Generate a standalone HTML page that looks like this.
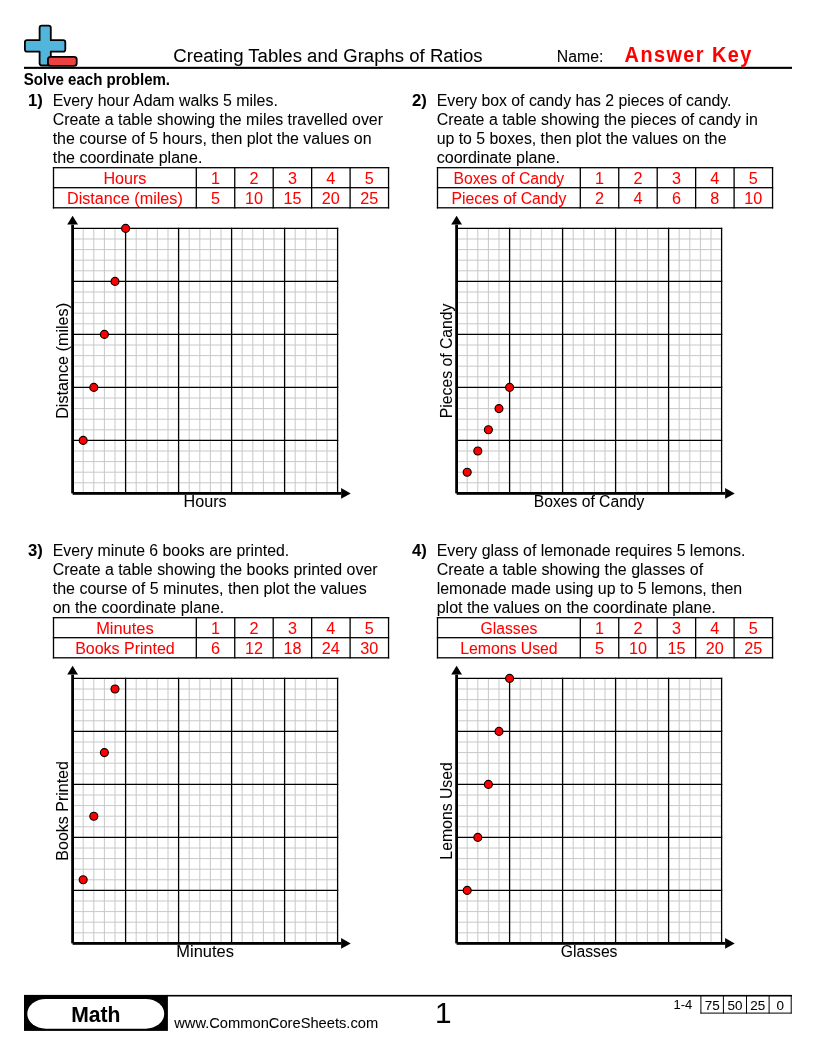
<!DOCTYPE html>
<html><head><meta charset="utf-8"><title>Creating Tables and Graphs of Ratios</title>
<style>
html,body{margin:0;padding:0;background:#fff;}
svg{display:block;}
text{font-family:'Liberation Sans', sans-serif;stroke-width:0.05px;}
</style></head><body>
<svg width="816" height="1056" viewBox="0 0 816 1056">
<rect width="816" height="1056" fill="#fff"/>
<g stroke="#000" stroke-width="1.8" stroke-linejoin="round">
<path d="M41.8,25.7 H48.6 A2.2,2.2 0 0 1 50.8,27.9 V40.2 H63.1 A2.2,2.2 0 0 1 65.3,42.4 V49.4 A2.2,2.2 0 0 1 63.1,51.6 H50.8 V63.3 A2.2,2.2 0 0 1 48.6,65.5 H41.8 A2.2,2.2 0 0 1 39.6,63.3 V51.6 H27.1 A2.2,2.2 0 0 1 24.9,49.4 V42.4 A2.2,2.2 0 0 1 27.1,40.2 H39.6 V27.9 A2.2,2.2 0 0 1 41.8,25.7 Z" fill="#52b5db"/>
<rect x="47.9" y="56.9" width="28.8" height="8.9" rx="2.6" fill="#ee4242"/>
</g>
<rect x="24" y="66.8" width="768" height="2.1" fill="#000"/>
<rect x="52.85" y="167.05" width="336.35" height="1.3" fill="#000"/>
<rect x="52.85" y="187.05" width="336.35" height="1.3" fill="#000"/>
<rect x="52.85" y="207.15" width="336.35" height="1.3" fill="#000"/>
<rect x="52.85" y="167.05" width="1.3" height="41.40" fill="#000"/>
<rect x="195.65" y="167.05" width="1.3" height="41.40" fill="#000"/>
<rect x="234.10" y="167.05" width="1.3" height="41.40" fill="#000"/>
<rect x="272.55" y="167.05" width="1.3" height="41.40" fill="#000"/>
<rect x="311.00" y="167.05" width="1.3" height="41.40" fill="#000"/>
<rect x="349.45" y="167.05" width="1.3" height="41.40" fill="#000"/>
<rect x="387.90" y="167.05" width="1.3" height="41.40" fill="#000"/>
<g stroke="#c8c8c8" stroke-width="1"><line x1="83.20" y1="228.40" x2="83.20" y2="493.40"/><line x1="72.60" y1="482.80" x2="337.60" y2="482.80"/><line x1="93.80" y1="228.40" x2="93.80" y2="493.40"/><line x1="72.60" y1="472.20" x2="337.60" y2="472.20"/><line x1="104.40" y1="228.40" x2="104.40" y2="493.40"/><line x1="72.60" y1="461.60" x2="337.60" y2="461.60"/><line x1="115.00" y1="228.40" x2="115.00" y2="493.40"/><line x1="72.60" y1="451.00" x2="337.60" y2="451.00"/><line x1="136.20" y1="228.40" x2="136.20" y2="493.40"/><line x1="72.60" y1="429.80" x2="337.60" y2="429.80"/><line x1="146.80" y1="228.40" x2="146.80" y2="493.40"/><line x1="72.60" y1="419.20" x2="337.60" y2="419.20"/><line x1="157.40" y1="228.40" x2="157.40" y2="493.40"/><line x1="72.60" y1="408.60" x2="337.60" y2="408.60"/><line x1="168.00" y1="228.40" x2="168.00" y2="493.40"/><line x1="72.60" y1="398.00" x2="337.60" y2="398.00"/><line x1="189.20" y1="228.40" x2="189.20" y2="493.40"/><line x1="72.60" y1="376.80" x2="337.60" y2="376.80"/><line x1="199.80" y1="228.40" x2="199.80" y2="493.40"/><line x1="72.60" y1="366.20" x2="337.60" y2="366.20"/><line x1="210.40" y1="228.40" x2="210.40" y2="493.40"/><line x1="72.60" y1="355.60" x2="337.60" y2="355.60"/><line x1="221.00" y1="228.40" x2="221.00" y2="493.40"/><line x1="72.60" y1="345.00" x2="337.60" y2="345.00"/><line x1="242.20" y1="228.40" x2="242.20" y2="493.40"/><line x1="72.60" y1="323.80" x2="337.60" y2="323.80"/><line x1="252.80" y1="228.40" x2="252.80" y2="493.40"/><line x1="72.60" y1="313.20" x2="337.60" y2="313.20"/><line x1="263.40" y1="228.40" x2="263.40" y2="493.40"/><line x1="72.60" y1="302.60" x2="337.60" y2="302.60"/><line x1="274.00" y1="228.40" x2="274.00" y2="493.40"/><line x1="72.60" y1="292.00" x2="337.60" y2="292.00"/><line x1="295.20" y1="228.40" x2="295.20" y2="493.40"/><line x1="72.60" y1="270.80" x2="337.60" y2="270.80"/><line x1="305.80" y1="228.40" x2="305.80" y2="493.40"/><line x1="72.60" y1="260.20" x2="337.60" y2="260.20"/><line x1="316.40" y1="228.40" x2="316.40" y2="493.40"/><line x1="72.60" y1="249.60" x2="337.60" y2="249.60"/><line x1="327.00" y1="228.40" x2="327.00" y2="493.40"/><line x1="72.60" y1="239.00" x2="337.60" y2="239.00"/></g>
<g stroke="#000" stroke-width="1.3"><line x1="125.60" y1="227.75" x2="125.60" y2="493.40"/><line x1="72.60" y1="440.40" x2="338.25" y2="440.40"/><line x1="178.60" y1="227.75" x2="178.60" y2="493.40"/><line x1="72.60" y1="387.40" x2="338.25" y2="387.40"/><line x1="231.60" y1="227.75" x2="231.60" y2="493.40"/><line x1="72.60" y1="334.40" x2="338.25" y2="334.40"/><line x1="284.60" y1="227.75" x2="284.60" y2="493.40"/><line x1="72.60" y1="281.40" x2="338.25" y2="281.40"/><line x1="337.60" y1="227.75" x2="337.60" y2="493.40"/><line x1="72.60" y1="228.40" x2="338.25" y2="228.40"/></g>
<rect x="71.20" y="224.60" width="2.8" height="268.8" fill="#000"/>
<rect x="72.60" y="492.00" width="268.5" height="2.8" fill="#000"/>
<path d="M72.60,215.80 L78.00,224.60 L67.20,224.60 Z" fill="#000"/>
<path d="M350.70,493.40 L341.10,488.10 L341.10,498.70 Z" fill="#000"/>
<circle cx="83.20" cy="440.40" r="4" fill="#ff0000" stroke="#000" stroke-width="1.1"/>
<circle cx="93.80" cy="387.40" r="4" fill="#ff0000" stroke="#000" stroke-width="1.1"/>
<circle cx="104.40" cy="334.40" r="4" fill="#ff0000" stroke="#000" stroke-width="1.1"/>
<circle cx="115.00" cy="281.40" r="4" fill="#ff0000" stroke="#000" stroke-width="1.1"/>
<circle cx="125.60" cy="228.40" r="4" fill="#ff0000" stroke="#000" stroke-width="1.1"/>
<rect x="436.85" y="167.05" width="336.35" height="1.3" fill="#000"/>
<rect x="436.85" y="187.05" width="336.35" height="1.3" fill="#000"/>
<rect x="436.85" y="207.15" width="336.35" height="1.3" fill="#000"/>
<rect x="436.85" y="167.05" width="1.3" height="41.40" fill="#000"/>
<rect x="579.65" y="167.05" width="1.3" height="41.40" fill="#000"/>
<rect x="618.10" y="167.05" width="1.3" height="41.40" fill="#000"/>
<rect x="656.55" y="167.05" width="1.3" height="41.40" fill="#000"/>
<rect x="695.00" y="167.05" width="1.3" height="41.40" fill="#000"/>
<rect x="733.45" y="167.05" width="1.3" height="41.40" fill="#000"/>
<rect x="771.90" y="167.05" width="1.3" height="41.40" fill="#000"/>
<g stroke="#c8c8c8" stroke-width="1"><line x1="467.20" y1="228.40" x2="467.20" y2="493.40"/><line x1="456.60" y1="482.80" x2="721.60" y2="482.80"/><line x1="477.80" y1="228.40" x2="477.80" y2="493.40"/><line x1="456.60" y1="472.20" x2="721.60" y2="472.20"/><line x1="488.40" y1="228.40" x2="488.40" y2="493.40"/><line x1="456.60" y1="461.60" x2="721.60" y2="461.60"/><line x1="499.00" y1="228.40" x2="499.00" y2="493.40"/><line x1="456.60" y1="451.00" x2="721.60" y2="451.00"/><line x1="520.20" y1="228.40" x2="520.20" y2="493.40"/><line x1="456.60" y1="429.80" x2="721.60" y2="429.80"/><line x1="530.80" y1="228.40" x2="530.80" y2="493.40"/><line x1="456.60" y1="419.20" x2="721.60" y2="419.20"/><line x1="541.40" y1="228.40" x2="541.40" y2="493.40"/><line x1="456.60" y1="408.60" x2="721.60" y2="408.60"/><line x1="552.00" y1="228.40" x2="552.00" y2="493.40"/><line x1="456.60" y1="398.00" x2="721.60" y2="398.00"/><line x1="573.20" y1="228.40" x2="573.20" y2="493.40"/><line x1="456.60" y1="376.80" x2="721.60" y2="376.80"/><line x1="583.80" y1="228.40" x2="583.80" y2="493.40"/><line x1="456.60" y1="366.20" x2="721.60" y2="366.20"/><line x1="594.40" y1="228.40" x2="594.40" y2="493.40"/><line x1="456.60" y1="355.60" x2="721.60" y2="355.60"/><line x1="605.00" y1="228.40" x2="605.00" y2="493.40"/><line x1="456.60" y1="345.00" x2="721.60" y2="345.00"/><line x1="626.20" y1="228.40" x2="626.20" y2="493.40"/><line x1="456.60" y1="323.80" x2="721.60" y2="323.80"/><line x1="636.80" y1="228.40" x2="636.80" y2="493.40"/><line x1="456.60" y1="313.20" x2="721.60" y2="313.20"/><line x1="647.40" y1="228.40" x2="647.40" y2="493.40"/><line x1="456.60" y1="302.60" x2="721.60" y2="302.60"/><line x1="658.00" y1="228.40" x2="658.00" y2="493.40"/><line x1="456.60" y1="292.00" x2="721.60" y2="292.00"/><line x1="679.20" y1="228.40" x2="679.20" y2="493.40"/><line x1="456.60" y1="270.80" x2="721.60" y2="270.80"/><line x1="689.80" y1="228.40" x2="689.80" y2="493.40"/><line x1="456.60" y1="260.20" x2="721.60" y2="260.20"/><line x1="700.40" y1="228.40" x2="700.40" y2="493.40"/><line x1="456.60" y1="249.60" x2="721.60" y2="249.60"/><line x1="711.00" y1="228.40" x2="711.00" y2="493.40"/><line x1="456.60" y1="239.00" x2="721.60" y2="239.00"/></g>
<g stroke="#000" stroke-width="1.3"><line x1="509.60" y1="227.75" x2="509.60" y2="493.40"/><line x1="456.60" y1="440.40" x2="722.25" y2="440.40"/><line x1="562.60" y1="227.75" x2="562.60" y2="493.40"/><line x1="456.60" y1="387.40" x2="722.25" y2="387.40"/><line x1="615.60" y1="227.75" x2="615.60" y2="493.40"/><line x1="456.60" y1="334.40" x2="722.25" y2="334.40"/><line x1="668.60" y1="227.75" x2="668.60" y2="493.40"/><line x1="456.60" y1="281.40" x2="722.25" y2="281.40"/><line x1="721.60" y1="227.75" x2="721.60" y2="493.40"/><line x1="456.60" y1="228.40" x2="722.25" y2="228.40"/></g>
<rect x="455.20" y="224.60" width="2.8" height="268.8" fill="#000"/>
<rect x="456.60" y="492.00" width="268.5" height="2.8" fill="#000"/>
<path d="M456.60,215.80 L462.00,224.60 L451.20,224.60 Z" fill="#000"/>
<path d="M734.70,493.40 L725.10,488.10 L725.10,498.70 Z" fill="#000"/>
<circle cx="467.20" cy="472.20" r="4" fill="#ff0000" stroke="#000" stroke-width="1.1"/>
<circle cx="477.80" cy="451.00" r="4" fill="#ff0000" stroke="#000" stroke-width="1.1"/>
<circle cx="488.40" cy="429.80" r="4" fill="#ff0000" stroke="#000" stroke-width="1.1"/>
<circle cx="499.00" cy="408.60" r="4" fill="#ff0000" stroke="#000" stroke-width="1.1"/>
<circle cx="509.60" cy="387.40" r="4" fill="#ff0000" stroke="#000" stroke-width="1.1"/>
<rect x="52.85" y="617.05" width="336.35" height="1.3" fill="#000"/>
<rect x="52.85" y="637.05" width="336.35" height="1.3" fill="#000"/>
<rect x="52.85" y="657.15" width="336.35" height="1.3" fill="#000"/>
<rect x="52.85" y="617.05" width="1.3" height="41.40" fill="#000"/>
<rect x="195.65" y="617.05" width="1.3" height="41.40" fill="#000"/>
<rect x="234.10" y="617.05" width="1.3" height="41.40" fill="#000"/>
<rect x="272.55" y="617.05" width="1.3" height="41.40" fill="#000"/>
<rect x="311.00" y="617.05" width="1.3" height="41.40" fill="#000"/>
<rect x="349.45" y="617.05" width="1.3" height="41.40" fill="#000"/>
<rect x="387.90" y="617.05" width="1.3" height="41.40" fill="#000"/>
<g stroke="#c8c8c8" stroke-width="1"><line x1="83.20" y1="678.40" x2="83.20" y2="943.40"/><line x1="72.60" y1="932.80" x2="337.60" y2="932.80"/><line x1="93.80" y1="678.40" x2="93.80" y2="943.40"/><line x1="72.60" y1="922.20" x2="337.60" y2="922.20"/><line x1="104.40" y1="678.40" x2="104.40" y2="943.40"/><line x1="72.60" y1="911.60" x2="337.60" y2="911.60"/><line x1="115.00" y1="678.40" x2="115.00" y2="943.40"/><line x1="72.60" y1="901.00" x2="337.60" y2="901.00"/><line x1="136.20" y1="678.40" x2="136.20" y2="943.40"/><line x1="72.60" y1="879.80" x2="337.60" y2="879.80"/><line x1="146.80" y1="678.40" x2="146.80" y2="943.40"/><line x1="72.60" y1="869.20" x2="337.60" y2="869.20"/><line x1="157.40" y1="678.40" x2="157.40" y2="943.40"/><line x1="72.60" y1="858.60" x2="337.60" y2="858.60"/><line x1="168.00" y1="678.40" x2="168.00" y2="943.40"/><line x1="72.60" y1="848.00" x2="337.60" y2="848.00"/><line x1="189.20" y1="678.40" x2="189.20" y2="943.40"/><line x1="72.60" y1="826.80" x2="337.60" y2="826.80"/><line x1="199.80" y1="678.40" x2="199.80" y2="943.40"/><line x1="72.60" y1="816.20" x2="337.60" y2="816.20"/><line x1="210.40" y1="678.40" x2="210.40" y2="943.40"/><line x1="72.60" y1="805.60" x2="337.60" y2="805.60"/><line x1="221.00" y1="678.40" x2="221.00" y2="943.40"/><line x1="72.60" y1="795.00" x2="337.60" y2="795.00"/><line x1="242.20" y1="678.40" x2="242.20" y2="943.40"/><line x1="72.60" y1="773.80" x2="337.60" y2="773.80"/><line x1="252.80" y1="678.40" x2="252.80" y2="943.40"/><line x1="72.60" y1="763.20" x2="337.60" y2="763.20"/><line x1="263.40" y1="678.40" x2="263.40" y2="943.40"/><line x1="72.60" y1="752.60" x2="337.60" y2="752.60"/><line x1="274.00" y1="678.40" x2="274.00" y2="943.40"/><line x1="72.60" y1="742.00" x2="337.60" y2="742.00"/><line x1="295.20" y1="678.40" x2="295.20" y2="943.40"/><line x1="72.60" y1="720.80" x2="337.60" y2="720.80"/><line x1="305.80" y1="678.40" x2="305.80" y2="943.40"/><line x1="72.60" y1="710.20" x2="337.60" y2="710.20"/><line x1="316.40" y1="678.40" x2="316.40" y2="943.40"/><line x1="72.60" y1="699.60" x2="337.60" y2="699.60"/><line x1="327.00" y1="678.40" x2="327.00" y2="943.40"/><line x1="72.60" y1="689.00" x2="337.60" y2="689.00"/></g>
<g stroke="#000" stroke-width="1.3"><line x1="125.60" y1="677.75" x2="125.60" y2="943.40"/><line x1="72.60" y1="890.40" x2="338.25" y2="890.40"/><line x1="178.60" y1="677.75" x2="178.60" y2="943.40"/><line x1="72.60" y1="837.40" x2="338.25" y2="837.40"/><line x1="231.60" y1="677.75" x2="231.60" y2="943.40"/><line x1="72.60" y1="784.40" x2="338.25" y2="784.40"/><line x1="284.60" y1="677.75" x2="284.60" y2="943.40"/><line x1="72.60" y1="731.40" x2="338.25" y2="731.40"/><line x1="337.60" y1="677.75" x2="337.60" y2="943.40"/><line x1="72.60" y1="678.40" x2="338.25" y2="678.40"/></g>
<rect x="71.20" y="674.60" width="2.8" height="268.8" fill="#000"/>
<rect x="72.60" y="942.00" width="268.5" height="2.8" fill="#000"/>
<path d="M72.60,665.80 L78.00,674.60 L67.20,674.60 Z" fill="#000"/>
<path d="M350.70,943.40 L341.10,938.10 L341.10,948.70 Z" fill="#000"/>
<circle cx="83.20" cy="879.80" r="4" fill="#ff0000" stroke="#000" stroke-width="1.1"/>
<circle cx="93.80" cy="816.20" r="4" fill="#ff0000" stroke="#000" stroke-width="1.1"/>
<circle cx="104.40" cy="752.60" r="4" fill="#ff0000" stroke="#000" stroke-width="1.1"/>
<circle cx="115.00" cy="689.00" r="4" fill="#ff0000" stroke="#000" stroke-width="1.1"/>
<rect x="436.85" y="617.05" width="336.35" height="1.3" fill="#000"/>
<rect x="436.85" y="637.05" width="336.35" height="1.3" fill="#000"/>
<rect x="436.85" y="657.15" width="336.35" height="1.3" fill="#000"/>
<rect x="436.85" y="617.05" width="1.3" height="41.40" fill="#000"/>
<rect x="579.65" y="617.05" width="1.3" height="41.40" fill="#000"/>
<rect x="618.10" y="617.05" width="1.3" height="41.40" fill="#000"/>
<rect x="656.55" y="617.05" width="1.3" height="41.40" fill="#000"/>
<rect x="695.00" y="617.05" width="1.3" height="41.40" fill="#000"/>
<rect x="733.45" y="617.05" width="1.3" height="41.40" fill="#000"/>
<rect x="771.90" y="617.05" width="1.3" height="41.40" fill="#000"/>
<g stroke="#c8c8c8" stroke-width="1"><line x1="467.20" y1="678.40" x2="467.20" y2="943.40"/><line x1="456.60" y1="932.80" x2="721.60" y2="932.80"/><line x1="477.80" y1="678.40" x2="477.80" y2="943.40"/><line x1="456.60" y1="922.20" x2="721.60" y2="922.20"/><line x1="488.40" y1="678.40" x2="488.40" y2="943.40"/><line x1="456.60" y1="911.60" x2="721.60" y2="911.60"/><line x1="499.00" y1="678.40" x2="499.00" y2="943.40"/><line x1="456.60" y1="901.00" x2="721.60" y2="901.00"/><line x1="520.20" y1="678.40" x2="520.20" y2="943.40"/><line x1="456.60" y1="879.80" x2="721.60" y2="879.80"/><line x1="530.80" y1="678.40" x2="530.80" y2="943.40"/><line x1="456.60" y1="869.20" x2="721.60" y2="869.20"/><line x1="541.40" y1="678.40" x2="541.40" y2="943.40"/><line x1="456.60" y1="858.60" x2="721.60" y2="858.60"/><line x1="552.00" y1="678.40" x2="552.00" y2="943.40"/><line x1="456.60" y1="848.00" x2="721.60" y2="848.00"/><line x1="573.20" y1="678.40" x2="573.20" y2="943.40"/><line x1="456.60" y1="826.80" x2="721.60" y2="826.80"/><line x1="583.80" y1="678.40" x2="583.80" y2="943.40"/><line x1="456.60" y1="816.20" x2="721.60" y2="816.20"/><line x1="594.40" y1="678.40" x2="594.40" y2="943.40"/><line x1="456.60" y1="805.60" x2="721.60" y2="805.60"/><line x1="605.00" y1="678.40" x2="605.00" y2="943.40"/><line x1="456.60" y1="795.00" x2="721.60" y2="795.00"/><line x1="626.20" y1="678.40" x2="626.20" y2="943.40"/><line x1="456.60" y1="773.80" x2="721.60" y2="773.80"/><line x1="636.80" y1="678.40" x2="636.80" y2="943.40"/><line x1="456.60" y1="763.20" x2="721.60" y2="763.20"/><line x1="647.40" y1="678.40" x2="647.40" y2="943.40"/><line x1="456.60" y1="752.60" x2="721.60" y2="752.60"/><line x1="658.00" y1="678.40" x2="658.00" y2="943.40"/><line x1="456.60" y1="742.00" x2="721.60" y2="742.00"/><line x1="679.20" y1="678.40" x2="679.20" y2="943.40"/><line x1="456.60" y1="720.80" x2="721.60" y2="720.80"/><line x1="689.80" y1="678.40" x2="689.80" y2="943.40"/><line x1="456.60" y1="710.20" x2="721.60" y2="710.20"/><line x1="700.40" y1="678.40" x2="700.40" y2="943.40"/><line x1="456.60" y1="699.60" x2="721.60" y2="699.60"/><line x1="711.00" y1="678.40" x2="711.00" y2="943.40"/><line x1="456.60" y1="689.00" x2="721.60" y2="689.00"/></g>
<g stroke="#000" stroke-width="1.3"><line x1="509.60" y1="677.75" x2="509.60" y2="943.40"/><line x1="456.60" y1="890.40" x2="722.25" y2="890.40"/><line x1="562.60" y1="677.75" x2="562.60" y2="943.40"/><line x1="456.60" y1="837.40" x2="722.25" y2="837.40"/><line x1="615.60" y1="677.75" x2="615.60" y2="943.40"/><line x1="456.60" y1="784.40" x2="722.25" y2="784.40"/><line x1="668.60" y1="677.75" x2="668.60" y2="943.40"/><line x1="456.60" y1="731.40" x2="722.25" y2="731.40"/><line x1="721.60" y1="677.75" x2="721.60" y2="943.40"/><line x1="456.60" y1="678.40" x2="722.25" y2="678.40"/></g>
<rect x="455.20" y="674.60" width="2.8" height="268.8" fill="#000"/>
<rect x="456.60" y="942.00" width="268.5" height="2.8" fill="#000"/>
<path d="M456.60,665.80 L462.00,674.60 L451.20,674.60 Z" fill="#000"/>
<path d="M734.70,943.40 L725.10,938.10 L725.10,948.70 Z" fill="#000"/>
<circle cx="467.20" cy="890.40" r="4" fill="#ff0000" stroke="#000" stroke-width="1.1"/>
<circle cx="477.80" cy="837.40" r="4" fill="#ff0000" stroke="#000" stroke-width="1.1"/>
<circle cx="488.40" cy="784.40" r="4" fill="#ff0000" stroke="#000" stroke-width="1.1"/>
<circle cx="499.00" cy="731.40" r="4" fill="#ff0000" stroke="#000" stroke-width="1.1"/>
<circle cx="509.60" cy="678.40" r="4" fill="#ff0000" stroke="#000" stroke-width="1.1"/>
<rect x="24" y="994.9" width="143.9" height="36" fill="#000"/>
<rect x="27.3" y="998.9" width="136.9" height="29.8" rx="18.4" ry="14.9" fill="#fff"/>
<rect x="167" y="994.9" width="625" height="1.6" fill="#000"/>
<rect x="700.40" y="995" width="1" height="18.5" fill="#000"/>
<rect x="722.90" y="995" width="1" height="18.5" fill="#000"/>
<rect x="746.00" y="995" width="1" height="18.5" fill="#000"/>
<rect x="768.60" y="995" width="1" height="18.5" fill="#000"/>
<rect x="790.70" y="995" width="1" height="18.5" fill="#000"/>
<rect x="700.4" y="1012.6" width="91.3" height="1" fill="#000"/>
<text id="title" x="173.30" y="62.00" font-size="18.8" stroke="#000" textLength="309.22" lengthAdjust="spacingAndGlyphs">Creating Tables and Graphs of Ratios</text>
<text id="name" x="556.80" y="62.00" font-size="16" stroke="#000" textLength="46.52" lengthAdjust="spacingAndGlyphs">Name:</text>
<text id="ak" x="624.60" y="62.00" font-size="21.33" font-weight="700" fill="#ff0000" stroke="#ff0000" letter-spacing="1.55" textLength="128.11" lengthAdjust="spacingAndGlyphs">Answer Key</text>
<text id="solve" x="23.80" y="85.00" font-size="16" font-weight="700" stroke="#000" textLength="146.25" lengthAdjust="spacingAndGlyphs">Solve each problem.</text>
<text id="n1)" x="27.90" y="106.00" font-size="16" font-weight="700" stroke="#000" textLength="14.80" lengthAdjust="spacingAndGlyphs">1)</text>
<text id="p1)_0" x="52.70" y="106.00" font-size="16" stroke="#000" textLength="225.12" lengthAdjust="spacingAndGlyphs">Every hour Adam walks 5 miles.</text>
<text id="p1)_1" x="52.70" y="125.00" font-size="16" stroke="#000" textLength="330.31" lengthAdjust="spacingAndGlyphs">Create a table showing the miles travelled over</text>
<text id="p1)_2" x="52.70" y="144.00" font-size="16" stroke="#000" textLength="318.89" lengthAdjust="spacingAndGlyphs">the course of 5 hours, then plot the values on</text>
<text id="p1)_3" x="52.70" y="163.00" font-size="16" stroke="#000" textLength="149.66" lengthAdjust="spacingAndGlyphs">the coordinate plane.</text>
<text id="t1)_l1" x="124.90" y="184.00" font-size="16" fill="#ff0000" stroke="#ff0000" text-anchor="middle" textLength="43.05" lengthAdjust="spacingAndGlyphs">Hours</text>
<text id="t1)_l2" x="124.90" y="204.00" font-size="16" fill="#ff0000" stroke="#ff0000" text-anchor="middle" textLength="115.86" lengthAdjust="spacingAndGlyphs">Distance (miles)</text>
<text id="t1)_a0" x="215.53" y="184.00" font-size="16" fill="#ff0000" stroke="#ff0000" text-anchor="middle" textLength="9.00" lengthAdjust="spacingAndGlyphs">1</text>
<text id="t1)_b0" x="215.53" y="204.00" font-size="16" fill="#ff0000" stroke="#ff0000" text-anchor="middle" textLength="9.00" lengthAdjust="spacingAndGlyphs">5</text>
<text id="t1)_a1" x="253.98" y="184.00" font-size="16" fill="#ff0000" stroke="#ff0000" text-anchor="middle" textLength="9.00" lengthAdjust="spacingAndGlyphs">2</text>
<text id="t1)_b1" x="253.98" y="204.00" font-size="16" fill="#ff0000" stroke="#ff0000" text-anchor="middle" textLength="17.98" lengthAdjust="spacingAndGlyphs">10</text>
<text id="t1)_a2" x="292.43" y="184.00" font-size="16" fill="#ff0000" stroke="#ff0000" text-anchor="middle" textLength="9.00" lengthAdjust="spacingAndGlyphs">3</text>
<text id="t1)_b2" x="292.43" y="204.00" font-size="16" fill="#ff0000" stroke="#ff0000" text-anchor="middle" textLength="17.98" lengthAdjust="spacingAndGlyphs">15</text>
<text id="t1)_a3" x="330.88" y="184.00" font-size="16" fill="#ff0000" stroke="#ff0000" text-anchor="middle" textLength="9.00" lengthAdjust="spacingAndGlyphs">4</text>
<text id="t1)_b3" x="330.88" y="204.00" font-size="16" fill="#ff0000" stroke="#ff0000" text-anchor="middle" textLength="17.98" lengthAdjust="spacingAndGlyphs">20</text>
<text id="t1)_a4" x="369.33" y="184.00" font-size="16" fill="#ff0000" stroke="#ff0000" text-anchor="middle" textLength="9.00" lengthAdjust="spacingAndGlyphs">5</text>
<text id="t1)_b4" x="369.33" y="204.00" font-size="16" fill="#ff0000" stroke="#ff0000" text-anchor="middle" textLength="17.98" lengthAdjust="spacingAndGlyphs">25</text>
<text id="g1)_x" x="205.10" y="507.20" font-size="16" stroke="#000" text-anchor="middle" textLength="43.05" lengthAdjust="spacingAndGlyphs">Hours</text>
<text id="g1)_y" x="0" y="0" font-size="16" stroke="#000" text-anchor="middle" transform="translate(67.70,360.90) rotate(-90)" textLength="115.86" lengthAdjust="spacingAndGlyphs">Distance (miles)</text>
<text id="n2)" x="411.90" y="106.00" font-size="16" font-weight="700" stroke="#000" textLength="14.80" lengthAdjust="spacingAndGlyphs">2)</text>
<text id="p2)_0" x="436.70" y="106.00" font-size="16" stroke="#000" textLength="294.81" lengthAdjust="spacingAndGlyphs">Every box of candy has 2 pieces of candy.</text>
<text id="p2)_1" x="436.70" y="125.00" font-size="16" stroke="#000" textLength="321.20" lengthAdjust="spacingAndGlyphs">Create a table showing the pieces of candy in</text>
<text id="p2)_2" x="436.70" y="144.00" font-size="16" stroke="#000" textLength="289.75" lengthAdjust="spacingAndGlyphs">up to 5 boxes, then plot the values on the</text>
<text id="p2)_3" x="436.70" y="163.00" font-size="16" stroke="#000" textLength="123.16" lengthAdjust="spacingAndGlyphs">coordinate plane.</text>
<text id="t2)_l1" x="508.90" y="184.00" font-size="16" fill="#ff0000" stroke="#ff0000" text-anchor="middle" textLength="110.62" lengthAdjust="spacingAndGlyphs">Boxes of Candy</text>
<text id="t2)_l2" x="508.90" y="204.00" font-size="16" fill="#ff0000" stroke="#ff0000" text-anchor="middle" textLength="114.77" lengthAdjust="spacingAndGlyphs">Pieces of Candy</text>
<text id="t2)_a0" x="599.52" y="184.00" font-size="16" fill="#ff0000" stroke="#ff0000" text-anchor="middle" textLength="9.00" lengthAdjust="spacingAndGlyphs">1</text>
<text id="t2)_b0" x="599.52" y="204.00" font-size="16" fill="#ff0000" stroke="#ff0000" text-anchor="middle" textLength="9.00" lengthAdjust="spacingAndGlyphs">2</text>
<text id="t2)_a1" x="637.97" y="184.00" font-size="16" fill="#ff0000" stroke="#ff0000" text-anchor="middle" textLength="9.00" lengthAdjust="spacingAndGlyphs">2</text>
<text id="t2)_b1" x="637.97" y="204.00" font-size="16" fill="#ff0000" stroke="#ff0000" text-anchor="middle" textLength="9.00" lengthAdjust="spacingAndGlyphs">4</text>
<text id="t2)_a2" x="676.42" y="184.00" font-size="16" fill="#ff0000" stroke="#ff0000" text-anchor="middle" textLength="9.00" lengthAdjust="spacingAndGlyphs">3</text>
<text id="t2)_b2" x="676.42" y="204.00" font-size="16" fill="#ff0000" stroke="#ff0000" text-anchor="middle" textLength="9.00" lengthAdjust="spacingAndGlyphs">6</text>
<text id="t2)_a3" x="714.88" y="184.00" font-size="16" fill="#ff0000" stroke="#ff0000" text-anchor="middle" textLength="9.00" lengthAdjust="spacingAndGlyphs">4</text>
<text id="t2)_b3" x="714.88" y="204.00" font-size="16" fill="#ff0000" stroke="#ff0000" text-anchor="middle" textLength="9.00" lengthAdjust="spacingAndGlyphs">8</text>
<text id="t2)_a4" x="753.32" y="184.00" font-size="16" fill="#ff0000" stroke="#ff0000" text-anchor="middle" textLength="9.00" lengthAdjust="spacingAndGlyphs">5</text>
<text id="t2)_b4" x="753.32" y="204.00" font-size="16" fill="#ff0000" stroke="#ff0000" text-anchor="middle" textLength="17.98" lengthAdjust="spacingAndGlyphs">10</text>
<text id="g2)_x" x="589.10" y="507.20" font-size="16" stroke="#000" text-anchor="middle" textLength="110.62" lengthAdjust="spacingAndGlyphs">Boxes of Candy</text>
<text id="g2)_y" x="0" y="0" font-size="16" stroke="#000" text-anchor="middle" transform="translate(451.70,360.90) rotate(-90)" textLength="114.77" lengthAdjust="spacingAndGlyphs">Pieces of Candy</text>
<text id="n3)" x="27.90" y="556.00" font-size="16" font-weight="700" stroke="#000" textLength="14.80" lengthAdjust="spacingAndGlyphs">3)</text>
<text id="p3)_0" x="52.70" y="556.00" font-size="16" stroke="#000" textLength="236.45" lengthAdjust="spacingAndGlyphs">Every minute 6 books are printed.</text>
<text id="p3)_1" x="52.70" y="575.00" font-size="16" stroke="#000" textLength="324.88" lengthAdjust="spacingAndGlyphs">Create a table showing the books printed over</text>
<text id="p3)_2" x="52.70" y="594.00" font-size="16" stroke="#000" textLength="314.08" lengthAdjust="spacingAndGlyphs">the course of 5 minutes, then plot the values</text>
<text id="p3)_3" x="52.70" y="613.00" font-size="16" stroke="#000" textLength="171.59" lengthAdjust="spacingAndGlyphs">on the coordinate plane.</text>
<text id="t3)_l1" x="124.90" y="634.00" font-size="16" fill="#ff0000" stroke="#ff0000" text-anchor="middle" textLength="57.50" lengthAdjust="spacingAndGlyphs">Minutes</text>
<text id="t3)_l2" x="124.90" y="654.00" font-size="16" fill="#ff0000" stroke="#ff0000" text-anchor="middle" textLength="99.55" lengthAdjust="spacingAndGlyphs">Books Printed</text>
<text id="t3)_a0" x="215.53" y="634.00" font-size="16" fill="#ff0000" stroke="#ff0000" text-anchor="middle" textLength="9.00" lengthAdjust="spacingAndGlyphs">1</text>
<text id="t3)_b0" x="215.53" y="654.00" font-size="16" fill="#ff0000" stroke="#ff0000" text-anchor="middle" textLength="9.00" lengthAdjust="spacingAndGlyphs">6</text>
<text id="t3)_a1" x="253.98" y="634.00" font-size="16" fill="#ff0000" stroke="#ff0000" text-anchor="middle" textLength="9.00" lengthAdjust="spacingAndGlyphs">2</text>
<text id="t3)_b1" x="253.98" y="654.00" font-size="16" fill="#ff0000" stroke="#ff0000" text-anchor="middle" textLength="17.98" lengthAdjust="spacingAndGlyphs">12</text>
<text id="t3)_a2" x="292.43" y="634.00" font-size="16" fill="#ff0000" stroke="#ff0000" text-anchor="middle" textLength="9.00" lengthAdjust="spacingAndGlyphs">3</text>
<text id="t3)_b2" x="292.43" y="654.00" font-size="16" fill="#ff0000" stroke="#ff0000" text-anchor="middle" textLength="17.98" lengthAdjust="spacingAndGlyphs">18</text>
<text id="t3)_a3" x="330.88" y="634.00" font-size="16" fill="#ff0000" stroke="#ff0000" text-anchor="middle" textLength="9.00" lengthAdjust="spacingAndGlyphs">4</text>
<text id="t3)_b3" x="330.88" y="654.00" font-size="16" fill="#ff0000" stroke="#ff0000" text-anchor="middle" textLength="17.98" lengthAdjust="spacingAndGlyphs">24</text>
<text id="t3)_a4" x="369.33" y="634.00" font-size="16" fill="#ff0000" stroke="#ff0000" text-anchor="middle" textLength="9.00" lengthAdjust="spacingAndGlyphs">5</text>
<text id="t3)_b4" x="369.33" y="654.00" font-size="16" fill="#ff0000" stroke="#ff0000" text-anchor="middle" textLength="17.98" lengthAdjust="spacingAndGlyphs">30</text>
<text id="g3)_x" x="205.10" y="957.20" font-size="16" stroke="#000" text-anchor="middle" textLength="57.50" lengthAdjust="spacingAndGlyphs">Minutes</text>
<text id="g3)_y" x="0" y="0" font-size="16" stroke="#000" text-anchor="middle" transform="translate(67.70,810.90) rotate(-90)" textLength="99.55" lengthAdjust="spacingAndGlyphs">Books Printed</text>
<text id="n4)" x="411.90" y="556.00" font-size="16" font-weight="700" stroke="#000" textLength="14.80" lengthAdjust="spacingAndGlyphs">4)</text>
<text id="p4)_0" x="436.70" y="556.00" font-size="16" stroke="#000" textLength="308.75" lengthAdjust="spacingAndGlyphs">Every glass of lemonade requires 5 lemons.</text>
<text id="p4)_1" x="436.70" y="575.00" font-size="16" stroke="#000" textLength="266.39" lengthAdjust="spacingAndGlyphs">Create a table showing the glasses of</text>
<text id="p4)_2" x="436.70" y="594.00" font-size="16" stroke="#000" textLength="305.53" lengthAdjust="spacingAndGlyphs">lemonade made using up to 5 lemons, then</text>
<text id="p4)_3" x="436.70" y="613.00" font-size="16" stroke="#000" textLength="279.05" lengthAdjust="spacingAndGlyphs">plot the values on the coordinate plane.</text>
<text id="t4)_l1" x="508.90" y="634.00" font-size="16" fill="#ff0000" stroke="#ff0000" text-anchor="middle" textLength="56.75" lengthAdjust="spacingAndGlyphs">Glasses</text>
<text id="t4)_l2" x="508.90" y="654.00" font-size="16" fill="#ff0000" stroke="#ff0000" text-anchor="middle" textLength="97.47" lengthAdjust="spacingAndGlyphs">Lemons Used</text>
<text id="t4)_a0" x="599.52" y="634.00" font-size="16" fill="#ff0000" stroke="#ff0000" text-anchor="middle" textLength="9.00" lengthAdjust="spacingAndGlyphs">1</text>
<text id="t4)_b0" x="599.52" y="654.00" font-size="16" fill="#ff0000" stroke="#ff0000" text-anchor="middle" textLength="9.00" lengthAdjust="spacingAndGlyphs">5</text>
<text id="t4)_a1" x="637.97" y="634.00" font-size="16" fill="#ff0000" stroke="#ff0000" text-anchor="middle" textLength="9.00" lengthAdjust="spacingAndGlyphs">2</text>
<text id="t4)_b1" x="637.97" y="654.00" font-size="16" fill="#ff0000" stroke="#ff0000" text-anchor="middle" textLength="17.98" lengthAdjust="spacingAndGlyphs">10</text>
<text id="t4)_a2" x="676.42" y="634.00" font-size="16" fill="#ff0000" stroke="#ff0000" text-anchor="middle" textLength="9.00" lengthAdjust="spacingAndGlyphs">3</text>
<text id="t4)_b2" x="676.42" y="654.00" font-size="16" fill="#ff0000" stroke="#ff0000" text-anchor="middle" textLength="17.98" lengthAdjust="spacingAndGlyphs">15</text>
<text id="t4)_a3" x="714.88" y="634.00" font-size="16" fill="#ff0000" stroke="#ff0000" text-anchor="middle" textLength="9.00" lengthAdjust="spacingAndGlyphs">4</text>
<text id="t4)_b3" x="714.88" y="654.00" font-size="16" fill="#ff0000" stroke="#ff0000" text-anchor="middle" textLength="17.98" lengthAdjust="spacingAndGlyphs">20</text>
<text id="t4)_a4" x="753.32" y="634.00" font-size="16" fill="#ff0000" stroke="#ff0000" text-anchor="middle" textLength="9.00" lengthAdjust="spacingAndGlyphs">5</text>
<text id="t4)_b4" x="753.32" y="654.00" font-size="16" fill="#ff0000" stroke="#ff0000" text-anchor="middle" textLength="17.98" lengthAdjust="spacingAndGlyphs">25</text>
<text id="g4)_x" x="589.10" y="957.20" font-size="16" stroke="#000" text-anchor="middle" textLength="56.75" lengthAdjust="spacingAndGlyphs">Glasses</text>
<text id="g4)_y" x="0" y="0" font-size="16" stroke="#000" text-anchor="middle" transform="translate(451.70,810.90) rotate(-90)" textLength="97.47" lengthAdjust="spacingAndGlyphs">Lemons Used</text>
<text id="math" x="95.80" y="1021.60" font-size="21.33" font-weight="700" stroke="#000" text-anchor="middle" textLength="49.25" lengthAdjust="spacingAndGlyphs">Math</text>
<text id="url" x="174.20" y="1027.60" font-size="14.67" stroke="#000" textLength="204.00" lengthAdjust="spacingAndGlyphs">www.CommonCoreSheets.com</text>
<text id="pg" x="443.20" y="1023.00" font-size="29.33" stroke="#000" text-anchor="middle" textLength="16.48" lengthAdjust="spacingAndGlyphs">1</text>
<text id="r14" x="682.80" y="1009.20" font-size="13.33" stroke="#000" text-anchor="middle" textLength="18.67" lengthAdjust="spacingAndGlyphs">1-4</text>
<text id="s0" x="712.15" y="1009.60" font-size="13.33" stroke="#000" text-anchor="middle" textLength="14.98" lengthAdjust="spacingAndGlyphs">75</text>
<text id="s1" x="734.95" y="1009.60" font-size="13.33" stroke="#000" text-anchor="middle" textLength="14.98" lengthAdjust="spacingAndGlyphs">50</text>
<text id="s2" x="757.80" y="1009.60" font-size="13.33" stroke="#000" text-anchor="middle" textLength="14.98" lengthAdjust="spacingAndGlyphs">25</text>
<text id="s3" x="780.15" y="1009.60" font-size="13.33" stroke="#000" text-anchor="middle" textLength="7.50" lengthAdjust="spacingAndGlyphs">0</text>
</svg>
</body></html>
